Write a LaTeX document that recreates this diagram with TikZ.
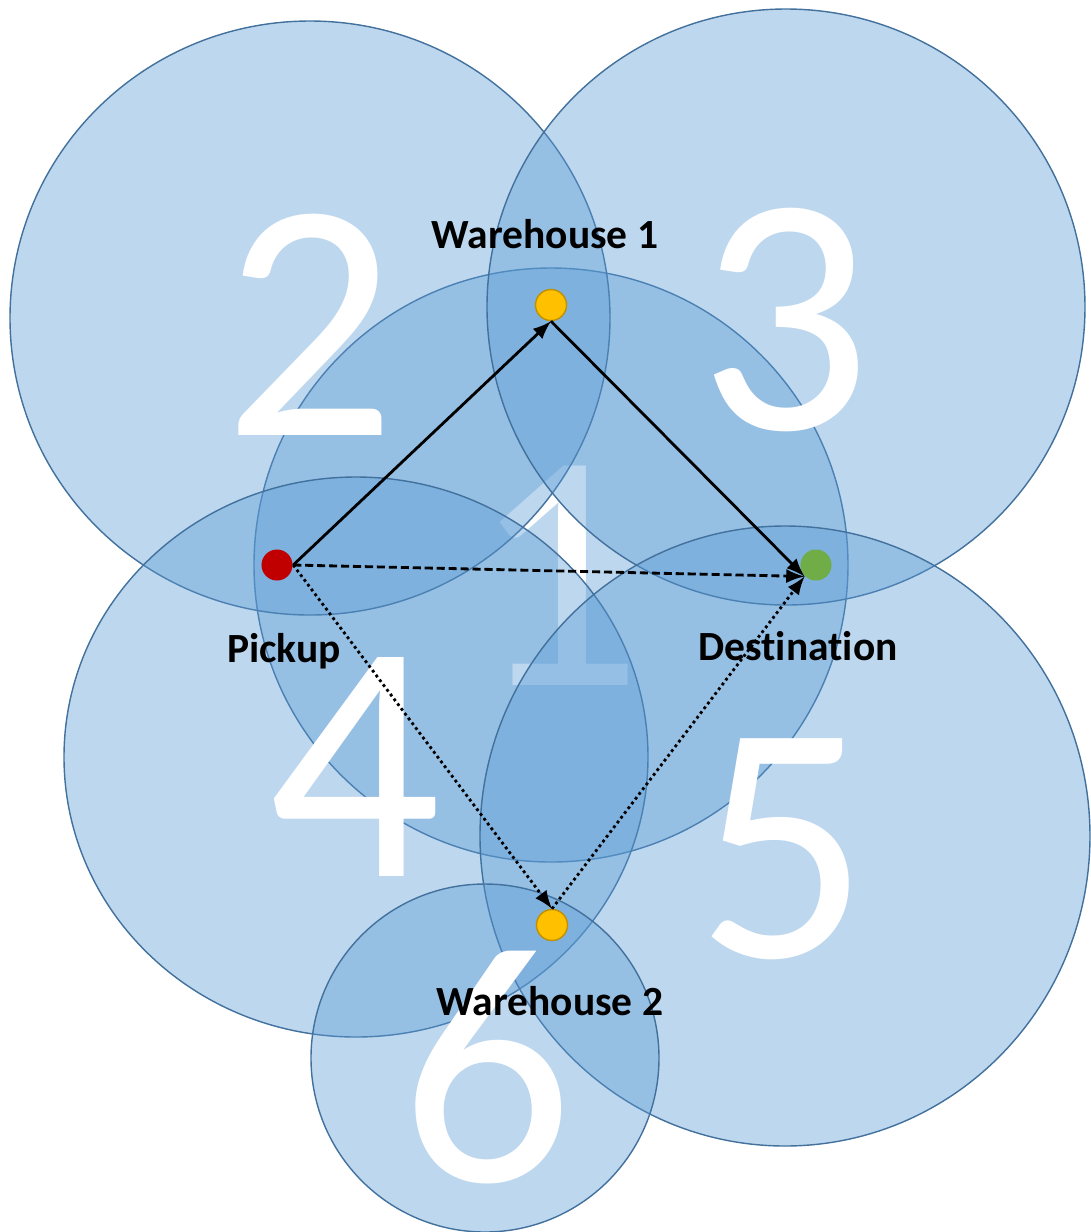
\documentclass[tikz,border=0pt]{standalone}
\usepackage{fontspec}
\setmainfont[Ligatures=NoCommon]{Carlito}

\definecolor{zonefill}{HTML}{5B9BD5}
\definecolor{zoneline}{HTML}{41719C}
\definecolor{housefill}{HTML}{FFC000}
\definecolor{houseline}{HTML}{BF9000}
\definecolor{pickred}{HTML}{C00000}
\definecolor{destgreen}{HTML}{70AD47}

\begin{document}
\begin{tikzpicture}[x=0.01cm, y=-0.01cm,
    zone/.style={draw=zoneline, fill=zonefill, fill opacity=0.4, line width=0.4pt},
    bignum/.style={text=white, anchor=base, inner sep=0pt, font=\fontsize{97}{97}\selectfont},
    spot/.style={circle, inner sep=0pt, minimum size=0.31cm},
    place/.style={anchor=base, inner sep=0pt, font=\bfseries\fontsize{11.8}{13}\selectfont},
    route/.style={-latex, line width=0.8pt}]
  \useasboundingbox (0,0) rectangle (1091,1232);

  % Zone 1 first, its number sits under the other zones
  \draw[zone] (551,565) ellipse [x radius=297, y radius=297];
  \node[bignum] (n1) at (557,685) {1};

  % Other zones
  \draw[zone] (310,318) ellipse [x radius=300, y radius=297];
  \draw[zone] (786,307) ellipse [x radius=299, y radius=298];
  \draw[zone] (356,757) ellipse [x radius=292, y radius=280];
  \draw[zone] (785,836) ellipse [x radius=305, y radius=310];
  \draw[zone] (485,1058) ellipse [x radius=174, y radius=174];

  % Zone numbers
  \node[bignum] (n2) at (310,435) {2};
  \node[bignum] (n3) at (785,429) {3};
  \node[bignum] (n4) at (355,876) {4};
  \node[bignum] (n5) at (783,957) {5};
  \node[bignum] (n6) at (487,1181) {6};

  % Locations
  \node[spot, fill=pickred] (pick) at (277,565) {};
  \node[spot, fill=destgreen] (dest) at (816,565) {};
  \node[spot, fill=housefill, draw=houseline, line width=0.4pt] (w1) at (551,305) {};
  \node[spot, fill=housefill, draw=houseline, line width=0.4pt] (w2) at (552,925) {};

  % Routes
  \draw[route] (pick.east) -- (w1.south);
  \draw[route] (w1.south) -- (dest.south west);
  \draw[route, dash pattern=on 2.3pt off 1.1pt] (pick.east) -- (dest.south west);
  \draw[route, dash pattern=on 0.8pt off 0.9pt] (pick.east) -- (w2.north);
  \draw[route, dash pattern=on 0.8pt off 0.9pt] (w2.north) -- (dest.south west);

  % Labels
  \node[place] (w1label) at (545,248) {Warehouse 1};
  \node[place] (picklabel) at (284,662) {Pickup};
  \node[place] (destlabel) at (798,660) {Destination};
  \node[place] (w2label) at (550,1015) {Warehouse 2};

\end{tikzpicture}
\end{document}
